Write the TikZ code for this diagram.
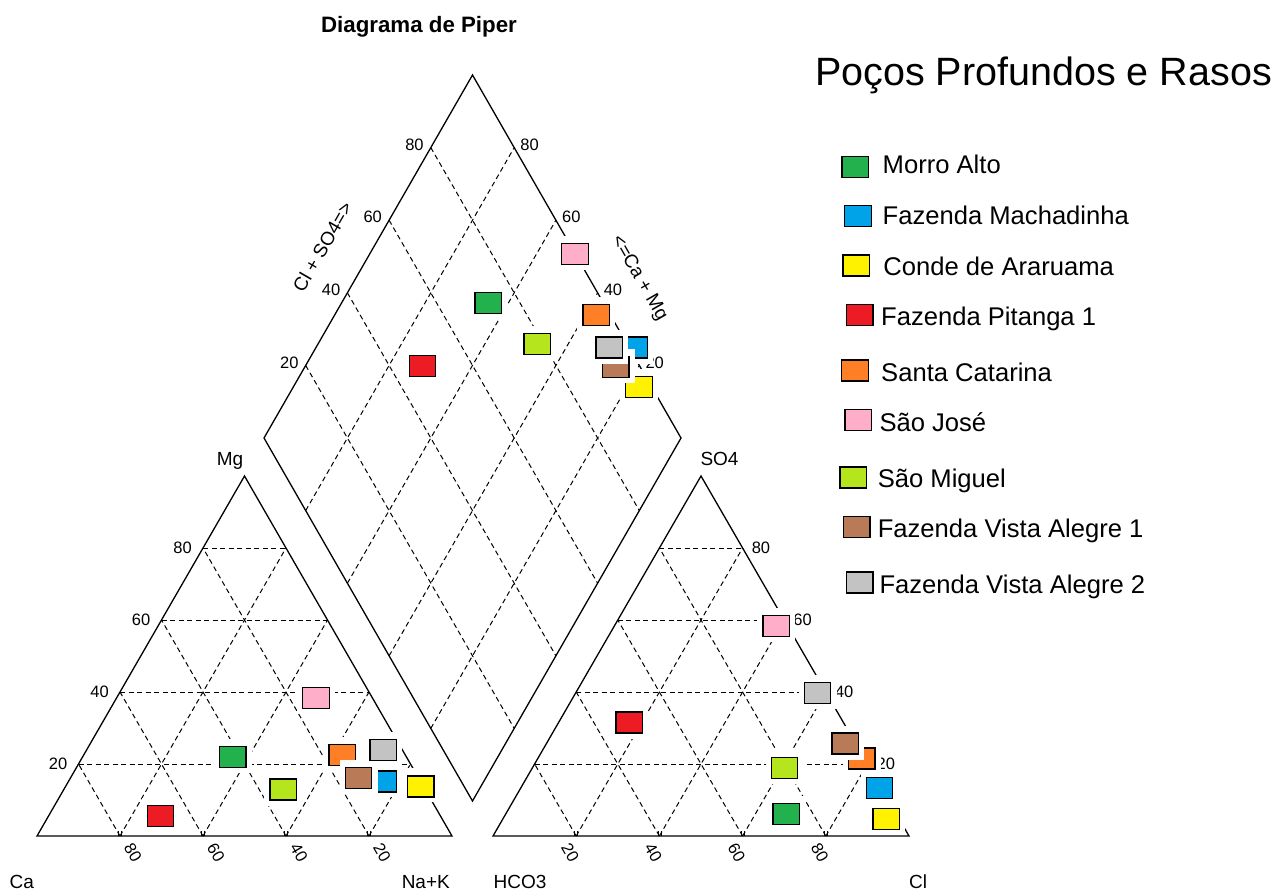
\documentclass[tikz,border=0pt]{standalone}
\usepackage{fontspec}
\setmainfont{Liberation Sans}
\usetikzlibrary{calc}
\definecolor{cgreen}{HTML}{22B14C}
\definecolor{cblue}{HTML}{00A2E8}
\definecolor{cyellow}{HTML}{FFF200}
\definecolor{cred}{HTML}{ED1C24}
\definecolor{corange}{HTML}{FF7F27}
\definecolor{cpink}{HTML}{FFAEC9}
\definecolor{clime}{HTML}{B5E61D}
\definecolor{cbrown}{HTML}{B97A57}
\definecolor{cgray}{HTML}{C3C3C3}
\newcommand{\mkr}[3]{%
  \fill[white] ($(#2)+(-19,-18)$) rectangle ($(#2)+(19,16)$);
  \node[mk,fill=#3] (#1) at (#2) {};}
\begin{document}
\begin{tikzpicture}[x=1pt,y=-1pt,
  edgeline/.style={line width=1.3pt, line join=miter},
  gridline/.style={line width=1pt, dash pattern=on 5pt off 3.5pt},
  mk/.style={rectangle, draw=black, line width=1.4pt, minimum width=26.5pt, minimum height=21pt, inner sep=0pt},
  ticklab/.style={font=\fontsize{16.5}{18}\selectfont, inner sep=0pt},
  axlab/.style={font=\fontsize{19}{22}\selectfont, inner sep=0pt, anchor=base},
  legtxt/.style={font=\fontsize{25.6}{30}\selectfont, inner sep=0pt, anchor=base west},
]
\useasboundingbox[fill=white] (0,0) rectangle (1273,892);
% corner coordinates
\coordinate (Ca) at (37,836);
\coordinate (NaK) at (452,836);
\coordinate (Mg) at (244.5,476);
\coordinate (HC) at (493,836);
\coordinate (Cl) at (909,836);
\coordinate (SO) at (701,476);
\coordinate (L) at (264,438);
\coordinate (T) at (472.5,75);
\coordinate (R) at (681,438);
\coordinate (B) at (472.5,801);
% grids
\foreach \f in {0.2,0.4,0.6,0.8}{
  \draw[gridline] ($(Ca)!\f!(Mg)$) -- ($(NaK)!\f!(Mg)$);
  \draw[gridline] ($(Ca)!\f!(NaK)$) -- ($(Ca)!\f!(Mg)$);
  \draw[gridline] ($(NaK)!\f!(Ca)$) -- ($(NaK)!\f!(Mg)$);
  \draw[gridline] ($(HC)!\f!(SO)$) -- ($(Cl)!\f!(SO)$);
  \draw[gridline] ($(HC)!\f!(Cl)$) -- ($(HC)!\f!(SO)$);
  \draw[gridline] ($(Cl)!\f!(HC)$) -- ($(Cl)!\f!(SO)$);
  \draw[gridline] ($(L)!\f!(T)$) -- ($(B)!\f!(R)$);
  \draw[gridline] ($(B)!\f!(L)$) -- ($(R)!\f!(T)$);
  \draw[line width=0.8pt] ($(Ca)!\f!(NaK)+(-1.5,0)$) -- ++(0,-5);
  \draw[line width=0.8pt] ($(Ca)!\f!(NaK)+(1.5,0)$) -- ++(0,-5);
  \draw[line width=0.8pt] ($(HC)!\f!(Cl)+(-1.5,0)$) -- ++(0,-5);
  \draw[line width=0.8pt] ($(HC)!\f!(Cl)+(1.5,0)$) -- ++(0,-5);
}
% outlines
\draw[edgeline] (Ca) -- (NaK) -- (Mg) -- cycle;
\draw[edgeline] (HC) -- (Cl) -- (SO) -- cycle;
\draw[edgeline] (L) -- (T) -- (R) -- (B) -- cycle;
% tick labels
\foreach \f/\v in {0.2/20,0.4/40,0.6/60,0.8/80}{
  \node[ticklab,anchor=east] (la\v) at ($(Ca)!\f!(Mg)+(-11,0)$) {\v};
  \node[ticklab,anchor=west] (ra\v) at ($(Cl)!\f!(SO)+(9,0)$) {\v};
  \node[ticklab,anchor=east] (dl\v) at ($(L)!\f!(T)+(-7,-3)$) {\v};
  \node[ticklab,anchor=west] (dr\v) at ($(R)!\f!(T)+(6,-3)$) {\v};
  \node[ticklab,rotate=-60] (rb\v) at ($(HC)!\f!(Cl)+(-6,17)$) {\v};
}
\foreach \f/\v in {0.2/80,0.4/60,0.6/40,0.8/20}{
  \node[ticklab,rotate=-60] (lb\v) at ($(Ca)!\f!(NaK)+(13,17)$) {\v};
}
% axis labels
\node[axlab] (tMg) at (230,465) {Mg};
\node[axlab] (tSO) at (719.5,465) {SO4};
\node[axlab] (tCa) at (21.7,888) {Ca};
\node[axlab] (tNa) at (425.8,888) {Na+K};
\node[axlab] (tHC) at (520,888) {HCO3};
\node[axlab] (tCl) at (918,888) {Cl};
\node[font=\fontsize{19}{22}\selectfont, inner sep=0pt, rotate=60] (tClSO) at (322.5,246.7) {Cl + SO4=>};
\node[font=\fontsize{19}{22}\selectfont, inner sep=0pt, rotate=-60] (tCaMg) at (639,278) {<=Ca + Mg};
\node[font=\bfseries\fontsize{22.3}{25}\selectfont, inner sep=0pt, anchor=base] (title) at (419,32.3) {Diagrama de Piper};
% markers: left triangle
\mkr{l1}{232.7,756.7}{cgreen}
\mkr{l2}{383.3,781.3}{cblue}
\mkr{l3}{420.8,786.3}{cyellow}
\mkr{l4}{160.5,815.8}{cred}
\mkr{l5}{342.2,755}{corange}
\mkr{l6}{316,697.8}{cpink}
\mkr{l7}{283.3,789.5}{clime}
\mkr{l8}{358.5,778}{cbrown}
\mkr{l9}{383.3,750}{cgray}
% markers: diamond
\mkr{d1}{488.3,303.2}{cgreen}
\mkr{d2}{634,347.5}{cblue}
\mkr{d3}{639,386.8}{cyellow}
\mkr{d4}{422.5,365.8}{cred}
\mkr{d5}{596.2,315}{corange}
\mkr{d6}{575,254}{cpink}
\mkr{d7}{537.3,344.2}{clime}
\mkr{d8}{615.7,366.7}{cbrown}
\mkr{d9}{609.3,347.5}{cgray}
% markers: right triangle
\mkr{r1}{786.3,814}{cgreen}
\mkr{r2}{879.5,787.8}{cblue}
\mkr{r3}{886.2,818.8}{cyellow}
\mkr{r4}{629.2,722.5}{cred}
\mkr{r5}{861.7,758.3}{corange}
\mkr{r6}{776.3,625.8}{cpink}
\mkr{r7}{784.5,768}{clime}
\mkr{r8}{845.3,743.5}{cbrown}
\mkr{r9}{817.5,693}{cgray}
% legend
\node[font=\fontsize{39.5}{44}\selectfont, inner sep=0pt, anchor=base west] (ltitle) at (815,85) {Poços Profundos e Rasos};
\node[mk,fill=cgreen] (k1) at (855.3,167) {};
\node[legtxt] (e1) at (882.5,173) {Morro Alto};
\node[mk,fill=cblue] (k2) at (858,216.2) {};
\node[legtxt] (e2) at (882.5,224) {Fazenda Machadinha};
\node[mk,fill=cyellow] (k3) at (856.3,265.3) {};
\node[legtxt] (e3) at (883.2,275.3) {Conde de Araruama};
\node[mk,fill=cred] (k4) at (859.7,315) {};
\node[legtxt] (e4) at (881,325.5) {Fazenda Pitanga 1};
\node[mk,fill=corange] (k5) at (855,370.5) {};
\node[legtxt] (e5) at (881,381.3) {Santa Catarina};
\node[mk,fill=cpink] (k6) at (858.2,419.8) {};
\node[legtxt] (e6) at (879.3,431.5) {São José};
\node[mk,fill=clime] (k7) at (853.3,477.6) {};
\node[legtxt] (e7) at (877.6,487.3) {São Miguel};
\node[mk,fill=cbrown] (k8) at (856.7,526.8) {};
\node[legtxt] (e8) at (877.6,537.4) {Fazenda Vista Alegre 1};
\node[mk,fill=cgray] (k9) at (859.7,582.6) {};
\node[legtxt] (e9) at (879.3,593.2) {Fazenda Vista Alegre 2};
\end{tikzpicture}
\end{document}
